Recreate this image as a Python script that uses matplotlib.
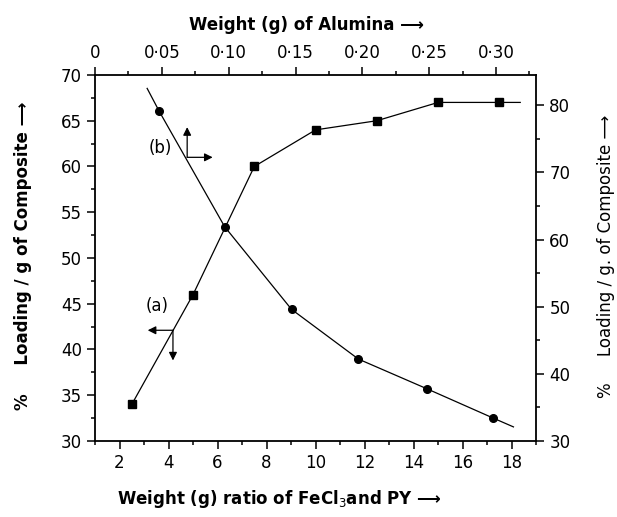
import matplotlib
matplotlib.use('Agg')
import matplotlib.pyplot as plt
from matplotlib.ticker import MultipleLocator, FixedLocator

# curve (a): squares, left axis vs bottom axis
ratio_a = [2.5, 5.0, 7.5, 10.0, 12.5, 15.0, 17.5]
load_a = [34.0, 46.0, 60.0, 64.0, 65.0, 67.0, 67.0]
tail_a_x = 18.35  # line runs on past the last point

# curve (b): circles, right axis vs top axis
alumina_b = [0.048, 0.097, 0.147, 0.197, 0.248, 0.298]
load_b = [79.1, 61.9, 49.6, 42.2, 37.8, 33.4]
line_b_start = (0.039, 82.5)
line_b_end = (0.313, 32.1)

bottom_ticks = [2, 4, 6, 8, 10, 12, 14, 16, 18]
left_ticks = [30, 35, 40, 45, 50, 55, 60, 65, 70]
right_ticks = [30, 40, 50, 60, 70, 80]
top_ticks = [0, 0.05, 0.10, 0.15, 0.20, 0.25, 0.30]
top_labels = ['0', '0·05', '0·10', '0·15', '0·20', '0·25', '0·30']

plt.rcParams['font.family'] = ['DejaVu Sans']

fig = plt.figure(figsize=(6.17, 5.17), dpi=100)
pos = [0.154, 0.147, 0.715, 0.708]
ax = fig.add_axes(pos)
axb = fig.add_axes(pos, facecolor='none')

# ----- curve (a)
xa = ratio_a + [tail_a_x]
ya = load_a + [load_a[-1]]
ax.plot(xa, ya, color='black', lw=0.9, marker='s', ms=6.2,
        markevery=list(range(len(ratio_a))))
ax.set_xlim(1, 19)
ax.set_ylim(30, 70)
ax.set_xticks(bottom_ticks)
ax.set_yticks(left_ticks)
ax.xaxis.set_minor_locator(MultipleLocator(1))
ax.yaxis.set_minor_locator(MultipleLocator(2.5))
ax.tick_params(which='both', direction='out', labelsize=12, width=1.1)
ax.tick_params(which='major', length=6)
ax.tick_params(which='minor', length=3)
for s in ax.spines.values():
    s.set_linewidth(1.3)

# ----- curve (b)
xb = [line_b_start[0]] + alumina_b + [line_b_end[0]]
yb = [line_b_start[1]] + load_b + [line_b_end[1]]
axb.plot(xb, yb, color='black', lw=0.9, marker='o', ms=5.5,
         markevery=list(range(1, len(alumina_b) + 1)))
axb.set_xlim(0, 0.33)
axb.set_ylim(30, 84.5)
axb.xaxis.tick_top()
axb.yaxis.tick_right()
axb.xaxis.set_major_locator(FixedLocator(top_ticks))
axb.set_xticklabels(top_labels)
axb.xaxis.set_minor_locator(MultipleLocator(0.025))
axb.set_yticks(right_ticks)
axb.yaxis.set_minor_locator(MultipleLocator(5))
axb.tick_params(which='both', direction='out', labelsize=12, width=1.1)
axb.tick_params(which='major', length=6)
axb.tick_params(which='minor', length=3)
for s in axb.spines.values():
    s.set_visible(False)

# ----- curve labels with axis arrows
arrow = dict(arrowstyle='-|>', color='black', lw=0.9, mutation_scale=12,
             shrinkA=0, shrinkB=0)
ax.text(3.65, 62.0, '(b)', fontsize=12, ha='center', va='center')
ax.annotate('', xy=(4.76, 64.3), xytext=(4.76, 61.0), arrowprops=arrow)
ax.annotate('', xy=(5.8, 61.0), xytext=(4.76, 61.0), arrowprops=arrow)
ax.text(3.53, 44.8, '(a)', fontsize=12, ha='center', va='center')
ax.annotate('', xy=(3.15, 42.1), xytext=(4.18, 42.1), arrowprops=arrow)
ax.annotate('', xy=(4.18, 38.8), xytext=(4.18, 42.1), arrowprops=arrow)

# ----- axis titles
fig.text(0.497, 0.951, 'Weight (g) of Alumina ⟶', fontsize=12,
         fontweight='bold', ha='center', va='center')
fig.text(0.452, 0.035, 'Weight (g) ratio of FeCl$_3$and PY ⟶', fontsize=12,
         fontweight='bold', ha='center', va='center')
fig.text(0.037, 0.505, '%     Loading / g of Composite ⟶', fontsize=12,
         fontweight='bold', ha='center', va='center', rotation=90)
fig.text(0.982, 0.505, '%     Loading / g. of Composite ⟶', fontsize=12,
         ha='center', va='center', rotation=90)

fig.savefig('out.png', dpi=100)
